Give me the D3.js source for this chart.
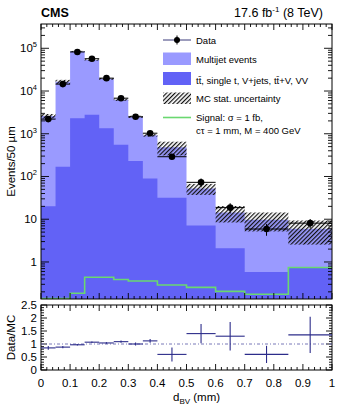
<!DOCTYPE html>
<html><head><meta charset="utf-8">
<script src="https://cdn.jsdelivr.net/npm/d3@7"></script>
<style>
html,body{margin:0;padding:0;background:#fff;}
svg{display:block;font-family:"Liberation Sans",Arial,Helvetica,sans-serif;}
</style></head>
<body><svg id="c" width="340" height="406"></svg>
<script>
// ---- data ----
const binEdges = [0,0.05,0.1,0.15,0.2,0.25,0.3,0.35,0.4,0.5,0.6,0.7,0.85,1.0];
const dataVals = [2200,14500,82000,57000,20000,6800,2500,1030,290,73,18.7,5.9,8.1];
const dataErr  = [45,120,290,240,140,80,50,32,30,17,5,1.8,2];
const multijet = [2570,16300,82000,50500,17900,5700,2270,830,450,45,12.3,9.2,5.2];
const otherBkg = [20,170,2320,2770,1350,550,230,90,32,7.1,2.1,0.58,0.75];
const mcStatErr= [310,1800,2500,2100,960,370,150,65,170,15,6,4.6,3.4];
const signal   = [0.14,0.14,0.185,0.44,0.44,0.39,0.36,0.36,0.29,0.255,0.205,0.175,0.74];
const ratio    = [0.85,0.88,0.97,1.07,1.04,1.09,1.0,1.12,0.6,1.4,1.3,0.6,1.35];
const ratioErr = [0.07,0.04,0.03,0.03,0.03,0.04,0.06,0.07,0.27,0.37,0.55,0.33,0.7];
const xTicks = [0,0.1,0.2,0.3,0.4,0.5,0.6,0.7,0.8,0.9,1];
const yDecades = [0,1,2,3,4,5];
const ratioTicks = [0,0.5,1,1.5,2,2.5];

const cLight = "#9a9aff", cDark = "#6262f6", cSig = "#6ad870", cRatio = "#2c2c8a";

const svg = d3.select("#c");
const L=41, R=332, T=24, B=299, RT=305, RB=370;
const x = d3.scaleLinear().domain([0,1]).range([L,R]);
const y = d3.scaleLog().domain([0.136,3.7e5]).range([B,T]);
const yr = d3.scaleLinear().domain([0,2.5]).range([RB,RT]);

const defs = svg.append("defs");
defs.append("clipPath").attr("id","cp").append("rect").attr("x",L).attr("y",T).attr("width",R-L).attr("height",B-T);
defs.append("clipPath").attr("id","cpr").append("rect").attr("x",L).attr("y",RT).attr("width",R-L).attr("height",RB-RT);
const pat = defs.append("pattern").attr("id","hatch").attr("patternUnits","userSpaceOnUse")
  .attr("width",3).attr("height",3).attr("patternTransform","rotate(45)");
pat.append("line").attr("x1",0.6).attr("y1",0).attr("x2",0.6).attr("y2",3).attr("stroke","#111").attr("stroke-width",1.2);

const bins = multijet.map((m,i)=>({i, x0:binEdges[i], x1:binEdges[i+1], mid:(binEdges[i]+binEdges[i+1])/2,
  total:m+otherBkg[i], other:otherBkg[i], d:dataVals[i], de:dataErr[i], err:mcStatErr[i], sig:signal[i], r:ratio[i], re:ratioErr[i]}));

function stepPts(vals){const p=[];vals.forEach((v,i)=>{p.push([binEdges[i],v]);p.push([binEdges[i+1],v]);});return p;}
const area = d3.area().x(d=>x(d[0])).y0(B).y1(d=>y(d[1]));
const line = d3.line().x(d=>x(d[0])).y(d=>y(d[1]));

const gTop = svg.append("g").attr("clip-path","url(#cp)");
gTop.append("path").attr("d",area(stepPts(bins.map(b=>b.total)))).attr("fill",cLight);
gTop.append("path").attr("d",area(stepPts(otherBkg))).attr("fill",cDark);
gTop.append("path").attr("d",line(stepPts(signal))).attr("fill","none").attr("stroke",cSig).attr("stroke-width",1.6);
gTop.selectAll("rect.h").data(bins).join("rect").attr("class","h")
  .attr("x",b=>x(b.x0)).attr("width",b=>x(b.x1)-x(b.x0))
  .attr("y",b=>y(b.total+b.err)).attr("height",b=>y(Math.max(b.total-b.err,0.14))-y(b.total+b.err))
  .attr("fill","url(#hatch)");
// data points
const gD = gTop.append("g");
gD.selectAll("line.hx").data(bins).join("line").attr("x1",b=>x(b.x0)).attr("x2",b=>x(b.x1))
  .attr("y1",b=>y(b.d)).attr("y2",b=>y(b.d)).attr("stroke","#000").attr("stroke-width",1);
gD.selectAll("line.vy").data(bins).join("line").attr("x1",b=>x(b.mid)).attr("x2",b=>x(b.mid))
  .attr("y1",b=>y(b.d+b.de)).attr("y2",b=>y(b.d-b.de)).attr("stroke","#000").attr("stroke-width",1);
gD.selectAll("circle").data(bins).join("circle").attr("cx",b=>x(b.mid)).attr("cy",b=>y(b.d)).attr("r",3.3).attr("fill","#000");

// frames
svg.append("rect").attr("x",L).attr("y",T).attr("width",R-L).attr("height",B-T).attr("fill","none").attr("stroke","#000").attr("stroke-width",1);
svg.append("rect").attr("x",L).attr("y",RT).attr("width",R-L).attr("height",RB-RT).attr("fill","none").attr("stroke","#000").attr("stroke-width",1);

// ticks
const tk = svg.append("g").attr("stroke","#000").attr("stroke-width",0.9);
function xTicksOn(top,bot){
  for(let k=0;k<=50;k++){const v=k/50;const len=(k%5===0)?6:3;const px=x(v);
    tk.append("line").attr("x1",px).attr("x2",px).attr("y1",bot).attr("y2",bot-len);
    tk.append("line").attr("x1",px).attr("x2",px).attr("y1",top).attr("y2",top+len);}
}
xTicksOn(T,B); xTicksOn(RT,RB);
for(let k=-1;k<=5;k++){for(let m=1;m<=9;m++){const v=m*Math.pow(10,k);
  if(v<0.136||v>3.7e5) continue; const py=y(v); const len=(m===1)?8:4;
  tk.append("line").attr("x1",L).attr("x2",L+len).attr("y1",py).attr("y2",py);
  tk.append("line").attr("x1",R).attr("x2",R-len).attr("y1",py).attr("y2",py);}}
for(let k=0;k<=25;k++){const v=k/10;const py=yr(v);const len=(k%5===0)?6:3;
  tk.append("line").attr("x1",L).attr("x2",L+len).attr("y1",py).attr("y2",py);
  tk.append("line").attr("x1",R).attr("x2",R-len).attr("y1",py).attr("y2",py);}

// ratio
svg.append("line").attr("x1",L).attr("x2",R).attr("y1",yr(1)).attr("y2",yr(1))
  .attr("stroke","#6a6ab0").attr("stroke-width",0.9).attr("stroke-dasharray","3,2,1,2");
const gR = svg.append("g").attr("clip-path","url(#cpr)").attr("stroke",cRatio).attr("stroke-width",1.1);
gR.selectAll("line.rh").data(bins).join("line").attr("x1",b=>x(b.x0)).attr("x2",b=>x(b.x1)).attr("y1",b=>yr(b.r)).attr("y2",b=>yr(b.r));
gR.selectAll("line.rv").data(bins).join("line").attr("x1",b=>x(b.mid)).attr("x2",b=>x(b.mid)).attr("y1",b=>yr(b.r+b.re)).attr("y2",b=>yr(b.r-b.re));

// labels
const fs=11.5;
const yl = svg.append("g").attr("font-size",fs).attr("fill","#000");
yDecades.forEach(k=>{
  const t=yl.append("text").attr("x",37).attr("y",y(Math.pow(10,k))+4).attr("text-anchor","end");
  if(k===0) t.text("1"); else if(k===1) t.text("10");
  else {t.append("tspan").text("10"); t.append("tspan").attr("font-size",7.5).attr("dy",-5).text(String(k));}
});
ratioTicks.forEach(v=>{
  yl.append("text").attr("x",37).attr("y",yr(v)+4).attr("text-anchor","end").text(String(v));
});
xTicks.forEach(v=>{
  yl.append("text").attr("x",x(v)).attr("y",387).attr("text-anchor","middle").text(String(v));
});
svg.append("text").attr("transform","translate(15,"+((T+B)/2)+") rotate(-90)").attr("text-anchor","middle").attr("font-size",fs).text("Events/50 µm");
svg.append("text").attr("transform","translate(15,"+((RT+RB)/2)+") rotate(-90)").attr("text-anchor","middle").attr("font-size",fs).text("Data/MC");
const xt = svg.append("text").attr("x",173).attr("y",401).attr("font-size",fs);
xt.append("tspan").text("d");
xt.append("tspan").attr("font-size",8).attr("dy",3).text("BV");
xt.append("tspan").attr("dy",-3).text(" (mm)");
svg.append("text").attr("x",41).attr("y",17).attr("font-size",12.5).attr("font-weight","bold").text("CMS");
const lum = svg.append("text").attr("x",323).attr("y",17).attr("font-size",12.5).attr("text-anchor","end");
lum.append("tspan").text("17.6 fb");
lum.append("tspan").attr("font-size",8).attr("dy",-5).text("-1");
lum.append("tspan").attr("dy",5).text(" (8 TeV)");

// legend
const lg = svg.append("g").attr("font-size",9.5);
const lx0=163, lx1=191, tx=196;
lg.append("line").attr("x1",lx0).attr("x2",lx1).attr("y1",40).attr("y2",40).attr("stroke","#3a3a7a").attr("stroke-width",1);
lg.append("line").attr("x1",177).attr("x2",177).attr("y1",35.5).attr("y2",44.5).attr("stroke","#000").attr("stroke-width",1);
lg.append("circle").attr("cx",177).attr("cy",40).attr("r",3).attr("fill","#000");
lg.append("text").attr("x",tx).attr("y",43.5).text("Data");
lg.append("rect").attr("x",lx0).attr("y",52.5).attr("width",lx1-lx0).attr("height",12.5).attr("fill",cLight);
lg.append("text").attr("x",tx).attr("y",62.5).text("Multijet events");
lg.append("rect").attr("x",lx0).attr("y",72).attr("width",lx1-lx0).attr("height",13).attr("fill",cDark);
lg.append("text").attr("x",tx).attr("y",83.5).text("tt̄, single t, V+jets, tt̄+V, VV");
lg.append("rect").attr("x",lx0).attr("y",92.5).attr("width",lx1-lx0).attr("height",11.5).attr("fill","url(#hatch)");
lg.append("text").attr("x",tx).attr("y",101.5).text("MC stat. uncertainty");
lg.append("line").attr("x1",lx0).attr("x2",lx1).attr("y1",117.5).attr("y2",117.5).attr("stroke",cSig).attr("stroke-width",1.6);
lg.append("text").attr("x",tx).attr("y",121).text("Signal: σ = 1 fb,");
lg.append("text").attr("x",tx).attr("y",134).text("cτ = 1 mm, M = 400 GeV");
</script></body></html>
